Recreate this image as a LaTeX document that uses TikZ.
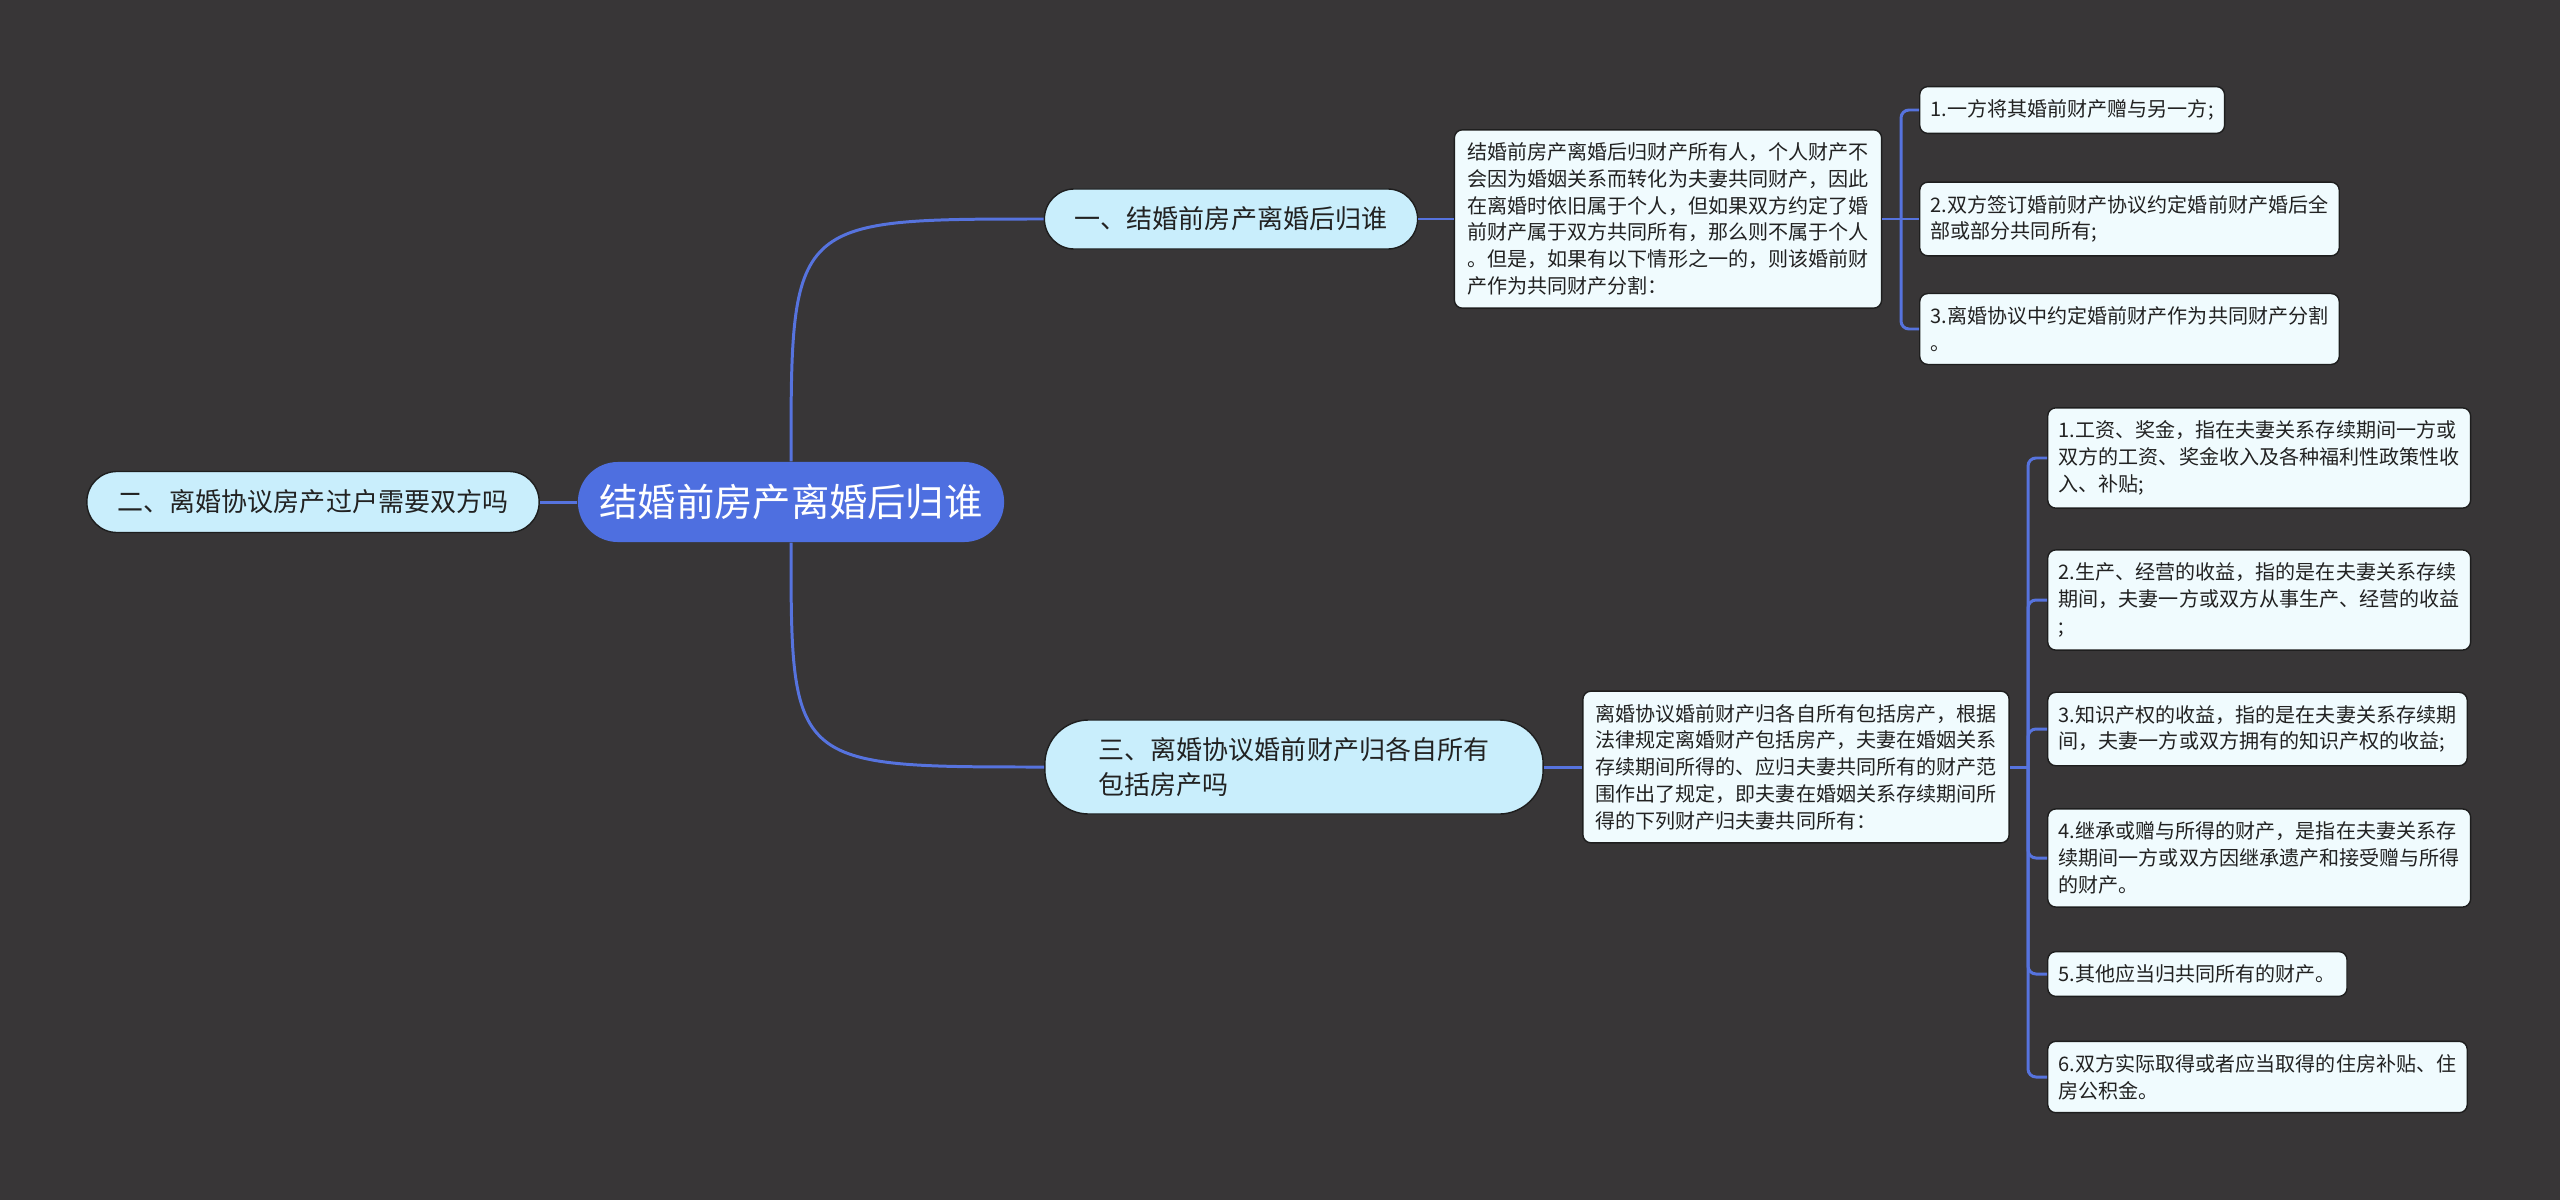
\documentclass[tikz,border=0pt]{standalone}
\usepackage{fontspec}
\setmainfont{Noto Sans CJK SC}
\usepackage{xcolor}
\usepackage{tikz}
\usetikzlibrary{positioning, calc}
\definecolor{canvas}{HTML}{383637}
\definecolor{linkblue}{HTML}{5673DE}
\definecolor{rootblue}{HTML}{4E6FE0}
\definecolor{topiccyan}{HTML}{C9EEFC}
\definecolor{notewhite}{HTML}{F0FBFE}
\definecolor{edgegray}{HTML}{1E1E1E}
\definecolor{inkdark}{HTML}{222222}

\tikzset{
  link/.style={draw=linkblue, line width=0.85pt},
  rootbox/.style={fill=rootblue, text=white, rounded corners=0.4cm,
    minimum width=4.26cm, minimum height=0.8cm, font=\fontsize{10.9pt}{12pt}\selectfont},
  topic/.style={fill=topiccyan, draw=edgegray, line width=0.4pt, text=inkdark,
    align=left, font=\fontsize{7.4pt}{10pt}\selectfont},
  notebox/.style={fill=notewhite, draw=edgegray, line width=0.4pt, rounded corners=2.3pt,
    align=left, inner xsep=0.11cm, inner ysep=0.13cm, text=inkdark,
    font=\fontsize{5.7pt}{7.6pt}\selectfont},
}

\begin{document}
\begin{tikzpicture}[x=0.01cm, y=-0.01cm]
  \fill[canvas] (0,0) rectangle (2560,1200);
  \useasboundingbox (0,0) rectangle (2560,1200);

  \node[rootbox] (root) at (791,502) {结婚前房产离婚后归谁};
  \node[topic, rounded corners=0.3cm, minimum width=4.52cm, minimum height=0.61cm]
    (t2) at (313,502) {二、离婚协议房产过户需要双方吗};
  \node[topic, rounded corners=0.3cm, minimum width=3.73cm, minimum height=0.6cm]
    (t1) at (1231,219) {一、结婚前房产离婚后归谁};
  \node[topic, rounded corners=0.44cm, minimum width=4.98cm, minimum height=0.94cm]
    (t3) at (1294,767) {三、离婚协议婚前财产归各自所有\\包括房产吗};

  \node[notebox, minimum width=4.27cm, minimum height=1.76cm] (d1) at (1668,219) {%
    结婚前房产离婚后归财产所有人，个人财产不\\
    会因为婚姻关系而转化为夫妻共同财产，因此\\
    在离婚时依旧属于个人，但如果双方约定了婚\\
    前财产属于双方共同所有，那么则不属于个人\\
    。但是，如果有以下情形之一的，则该婚前财\\
    产作为共同财产分割：};
  \node[notebox, minimum width=4.26cm, minimum height=1.51cm] (d3) at (1796,767) {%
    离婚协议婚前财产归各自所有包括房产，根据\\
    法律规定离婚财产包括房产，夫妻在婚姻关系\\
    存续期间所得的、应归夫妻共同所有的财产范\\
    围作出了规定，即夫妻在婚姻关系存续期间所\\
    得的下列财产归夫妻共同所有：};

  \node[notebox, anchor=west] (a1) at (1919,110) {1.一方将其婚前财产赠与另一方;};
  \node[notebox, anchor=west] (a2) at (1919,219) {2.双方签订婚前财产协议约定婚前财产婚后全\\部或部分共同所有;};
  \node[notebox, anchor=west] (a3) at (1919,329) {3.离婚协议中约定婚前财产作为共同财产分割\\。};

  \node[notebox, anchor=west] (b1) at (2047,458) {1.工资、奖金，指在夫妻关系存续期间一方或\\双方的工资、奖金收入及各种福利性政策性收\\入、补贴;};
  \node[notebox, anchor=west] (b2) at (2047,600) {2.生产、经营的收益，指的是在夫妻关系存续\\期间，夫妻一方或双方从事生产、经营的收益\\;};
  \node[notebox, anchor=west] (b3) at (2047,729) {3.知识产权的收益，指的是在夫妻关系存续期\\间，夫妻一方或双方拥有的知识产权的收益;};
  \node[notebox, anchor=west] (b4) at (2047,858) {4.继承或赠与所得的财产，是指在夫妻关系存\\续期间一方或双方因继承遗产和接受赠与所得\\的财产。};
  \node[notebox, anchor=west] (b5) at (2047,974) {5.其他应当归共同所有的财产。};
  \node[notebox, anchor=west] (b6) at (2047,1077) {6.双方实际取得或者应当取得的住房补贴、住\\房公积金。};

  \coordinate (j1) at (1901,219);
  \coordinate (j3) at (2028,767);

  \draw[link] (root.north) .. controls (root.north |- t1.west) .. (t1.west);
  \draw[link] (root.south) .. controls (root.south |- t3.west) .. (t3.west);
  \draw[link] (root.west) -- (t2.east);
  \draw[link] (t1.east) -- (d1.west);
  \draw[link] (t3.east) -- (d3.west);
  \draw[link] (d1.east) -- (a2.west);
  \foreach \leaf in {a1,a3}
    \draw[link, rounded corners=0.08cm] (j1) |- (\leaf.west);
  \draw[link] (d3.east) -- (j3);
  \foreach \leaf in {b1,b2,b3,b4,b5,b6}
    \draw[link, rounded corners=0.08cm] (j3) |- (\leaf.west);
\end{tikzpicture}
\end{document}
